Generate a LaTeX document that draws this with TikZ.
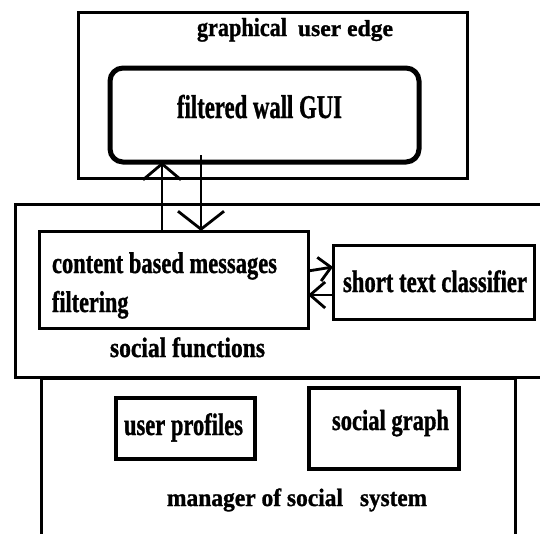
\documentclass[tikz,border=0pt]{standalone}
\usepackage{fontspec}
\setmainfont{Liberation Serif}[BoldFeatures={FakeBold=1.2}]
\usepackage{graphicx}
\usetikzlibrary{arrows.meta,fit}
\newcommand\fw[3]{{\fontsize{#2pt}{#2pt}\selectfont\bfseries\resizebox{#1pt}{\height}{#3}}}
\tikzset{
  box/.style={draw, line width=3pt, inner sep=0pt, outer sep=0pt},
  thickbox/.style={draw, line width=4pt, inner sep=0pt, outer sep=0pt},
  wallbox/.style={draw, line width=5pt, rounded corners=13pt, inner sep=0pt, outer sep=0pt},
  lbl/.style={anchor=base west, inner sep=0pt, outer sep=0pt},
  conn/.style={line width=2.8pt},
}
\begin{document}
\begin{tikzpicture}[x=1pt,y=-1pt]
\useasboundingbox (0,0) rectangle (540,533);
\clip (0,0) rectangle (540,533);
% boxes
\node[box, fit={(78,12) (467,178)}] (gue) {};
\node[wallbox, fit={(110,68) (419,162)}] (wall) {};
\node[box, fit={(15,204) (570,377)}] (sf) {};
\node[box, fit={(39,231) (308,328)}] (cbm) {};
\node[box, fit={(333,245) (534,319)}] (stc) {};
\node[box, fit={(41,378) (515,570)}] (msys) {};
\node[thickbox, fit={(116,398) (255,459)}] (upr) {};
\node[thickbox, fit={(309,388) (459,469)}] (sg) {};
% labels
\node[lbl] (t1) at (197,36) {\fw{90}{26}{graphical}\hspace{11pt}\fw{95}{23}{user edge}};
\node[lbl] (t2) at (177,118) {\fw{165}{33}{filtered wall GUI}};
\node[lbl] (t3) at (52,273) {\fw{225}{30}{content based messages}};
\node[lbl] (t3b) at (52,312) {{\fontsize{30pt}{30pt}\selectfont\bfseries\scalebox{0.74}[1]{filtering}}};
\node[lbl] (t4) at (343,292) {\fw{184}{31}{short text classifier}};
\node[lbl] (t5) at (110,357) {\fw{155}{28}{social functions}};
\node[lbl] (t6) at (124,435) {\fw{119}{31}{user profiles}};
\node[lbl] (t7) at (332,430) {\fw{117}{29}{social graph}};
\node[lbl] (t8) at (167,506) {\fw{176}{25}{manager of social}\hspace{17pt}\fw{67}{25}{system}};
% connectors
\coordinate (ux) at (162,0);
\coordinate (dx) at (201,0);
\coordinate (dstart) at (201,155);
\coordinate (r1) at (0,271);
\coordinate (r2) at (0,267);
\coordinate (l1) at (0,295);
\draw[conn, -{Straight Barb[length=16pt,width=38pt]}] (ux |- cbm.north) -- (ux |- wall.south);
\draw[conn, -{Straight Barb[length=18pt,width=46pt]}] (dstart) -- (dstart |- cbm.north);
\draw[conn, -{Straight Barb[length=12pt,width=24pt]}] (r1 -| cbm.east) -- (r2 -| stc.west);
\draw[conn, -{Straight Barb[length=15pt,width=26pt]}] (l1 -| stc.west) -- (l1 -| cbm.east);
\end{tikzpicture}
\end{document}
